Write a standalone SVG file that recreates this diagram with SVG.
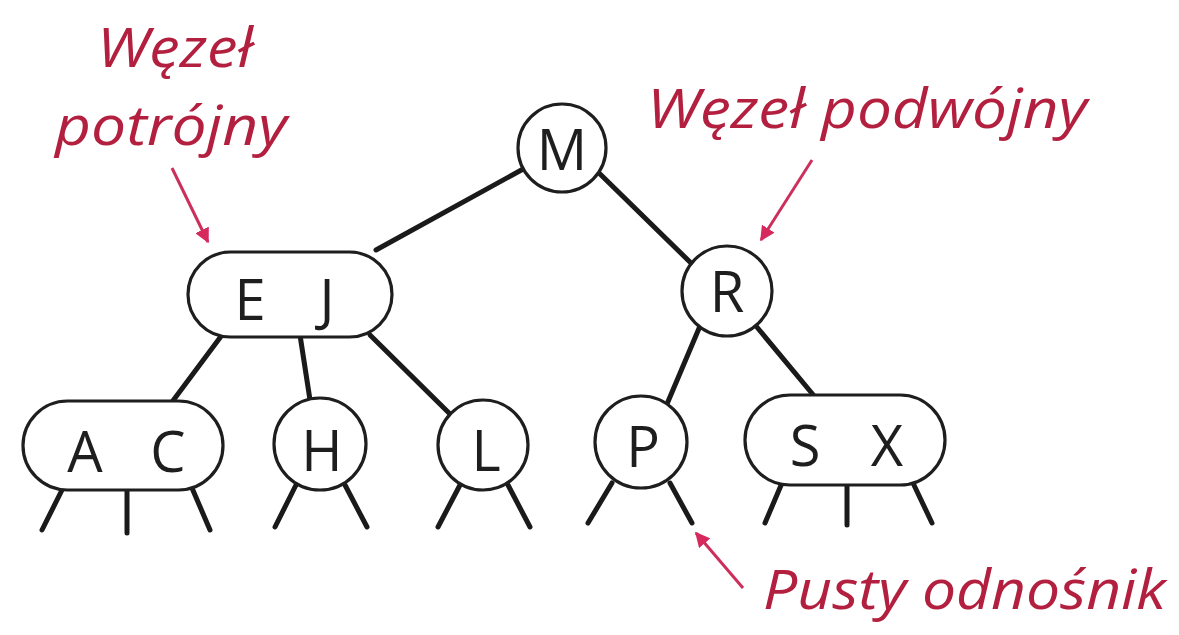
<svg xmlns="http://www.w3.org/2000/svg" width="1179" height="635" viewBox="0 0 1179 635">
  <style>
    .node { fill: #ffffff; stroke: #1e1e1e; stroke-width: 3.2; }
    .key { font-family: "Open Sans", "DejaVu Sans", sans-serif; font-size: 56px; fill: #1e1e1e; text-anchor: middle; }
    .edge { stroke: #1a1a1a; stroke-width: 5; stroke-linecap: round; fill: none; }
    .note { font-family: "Open Sans", "DejaVu Sans", sans-serif; font-style: italic; font-size: 54px; fill: #b3203f; }
    .pointer { stroke: #cc2f5c; stroke-width: 3; fill: none; marker-end: url(#tip); }
  </style>
  <defs>
    <marker id="tip" viewBox="0 0 10 10" refX="9" refY="5" markerWidth="5" markerHeight="5" orient="auto" markerUnits="strokeWidth">
      <path d="M0,0 L10,5 L0,10 z" fill="#d62a5e"/>
    </marker>
  </defs>
  <rect width="1179" height="635" fill="#ffffff"/>

  <!-- tree links and null links -->
  <g id="connectors">
    <line class="edge" x1="525" y1="168" x2="376" y2="250"/>
    <line class="edge" x1="598" y1="172" x2="692" y2="264"/>
    <line class="edge" x1="222" y1="335" x2="172" y2="402"/>
    <line class="edge" x1="300" y1="335" x2="310" y2="400"/>
    <line class="edge" x1="370" y1="335" x2="450" y2="414"/>
    <line class="edge" x1="700" y1="326" x2="667" y2="404"/>
    <line class="edge" x1="756" y1="326" x2="815" y2="397"/>
    <!-- null links under the leaves -->
    <line class="edge" x1="63" y1="488" x2="42" y2="530"/>
    <line class="edge" x1="127" y1="488" x2="127" y2="533"/>
    <line class="edge" x1="192" y1="488" x2="210" y2="530"/>
    <line class="edge" x1="296" y1="485" x2="275" y2="527"/>
    <line class="edge" x1="345" y1="485" x2="367" y2="527"/>
    <line class="edge" x1="460" y1="485" x2="438" y2="527"/>
    <line class="edge" x1="508" y1="485" x2="530" y2="527"/>
    <line class="edge" x1="612" y1="483" x2="588" y2="523"/>
    <line class="edge" x1="670" y1="483" x2="692" y2="523"/>
    <line class="edge" x1="782" y1="483" x2="765" y2="523"/>
    <line class="edge" x1="847" y1="483" x2="847" y2="525"/>
    <line class="edge" x1="913" y1="483" x2="932" y2="523"/>
  </g>

  <g id="node-M">
    <circle class="node" cx="562" cy="148" r="44"/>
    <text class="key" x="562" y="170">M</text>
  </g>
  <g id="node-EJ">
    <rect class="node" x="188" y="252" width="204" height="85" rx="42.5"/>
    <text class="key" x="250" y="320">E</text>
    <text class="key" x="327" y="320">J</text>
  </g>
  <g id="node-R">
    <circle class="node" cx="727" cy="291" r="45"/>
    <text class="key" x="727" y="312">R</text>
  </g>
  <g id="node-AC">
    <rect class="node" x="23" y="401" width="200" height="89" rx="44.5"/>
    <text class="key" x="85" y="472">A</text>
    <text class="key" x="168" y="472">C</text>
  </g>
  <g id="node-H">
    <circle class="node" cx="320" cy="444" r="46"/>
    <text class="key" x="322" y="471">H</text>
  </g>
  <g id="node-L">
    <circle class="node" cx="483" cy="445" r="45"/>
    <text class="key" x="486" y="471">L</text>
  </g>
  <g id="node-P">
    <circle class="node" cx="641" cy="442" r="46"/>
    <text class="key" x="643" y="467">P</text>
  </g>
  <g id="node-SX">
    <rect class="node" x="745" y="395" width="200" height="90" rx="45"/>
    <text class="key" x="805" y="466">S</text>
    <text class="key" x="887" y="466">X</text>
  </g>

  <!-- annotations -->
  <g id="labels">
    <text class="note" x="97" y="67" textLength="156" lengthAdjust="spacingAndGlyphs">Węzeł</text>
    <text class="note" x="55" y="145" textLength="232" lengthAdjust="spacingAndGlyphs">potrójny</text>
    <text class="note" x="647" y="128" textLength="440" lengthAdjust="spacingAndGlyphs">Węzeł podwójny</text>
    <text class="note" x="763" y="609" textLength="403" lengthAdjust="spacingAndGlyphs">Pusty odnośnik</text>
    <line class="pointer" x1="172" y1="168" x2="208" y2="242"/>
    <line class="pointer" x1="812" y1="160" x2="761" y2="240"/>
    <line class="pointer" x1="743" y1="588" x2="696" y2="533"/>
  </g>
</svg>
